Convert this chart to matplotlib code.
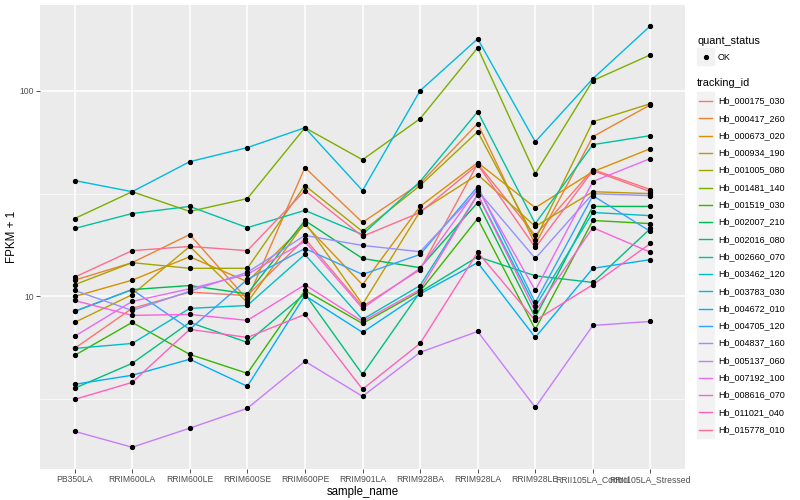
import matplotlib.pyplot as plt
from matplotlib.patches import Rectangle
from matplotlib.lines import Line2D
from matplotlib.ticker import FixedLocator, NullFormatter

plt.rcParams['font.family'] = ['Liberation Sans', 'DejaVu Sans']

samples = ['PB350LA', 'RRIM600LA', 'RRIM600LE', 'RRIM600SE', 'RRIM600PE',
           'RRIM901LA', 'RRIM928BA', 'RRIM928LA', 'RRIM928LE',
           'RRII105LA_Control', 'RRII105LA_Stressed']

tracking_ids = ['Hb_000175_030', 'Hb_000417_260', 'Hb_000673_020', 'Hb_000934_190',
                'Hb_001005_080', 'Hb_001481_140', 'Hb_001519_030', 'Hb_002007_210',
                'Hb_002016_080', 'Hb_002660_070', 'Hb_003462_120', 'Hb_003783_030',
                'Hb_004672_010', 'Hb_004705_120', 'Hb_004837_160', 'Hb_005137_060',
                'Hb_007192_100', 'Hb_008616_070', 'Hb_011021_040', 'Hb_015778_010']

# ggplot hue palette for 20 groups
colors = ['#F8766D', '#EA8331', '#D89000', '#C09B00', '#A3A500', '#7CAE00', '#39B600',
          '#00BB4E', '#00BF7D', '#00C1A3', '#00BFC4', '#00BAE0', '#00B0F6', '#35A2FF',
          '#9590FF', '#C77CFF', '#E76BF3', '#FA62DB', '#FF62BC', '#FF6C91']

# FPKM + 1 per sample
hb_000175_030 = [5.59, 8.75, 10.5, 10.1, 19.1, 8.94, 13.5, 44.2, 19.8, 41.4, 33.1]
hb_000417_260 = [12.0, 14.6, 20.0, 9.67, 42.3, 22.9, 35.4, 69.2, 17.9, 59.8, 85.5]
hb_000673_020 = [10.0, 12.0, 15.6, 11.8, 22.4, 11.4, 27.4, 44.7, 27.0, 40.4, 52.3]
hb_000934_190 = [7.48, 10.2, 17.5, 9.35, 22.9, 9.15, 25.9, 39.1, 21.9, 32.3, 31.6]
hb_001005_080 = [11.4, 14.6, 13.7, 13.7, 34.6, 20.7, 34.6, 63.2, 18.9, 70.7, 86.5]
hb_001481_140 = [23.9, 32.3, 25.9, 29.9, 66.1, 46.2, 73.1, 161.7, 39.5, 112.0, 149.5]
hb_001519_030 = [5.17, 7.48, 5.23, 4.23, 10.7, 7.39, 10.6, 23.9, 6.92, 23.4, 22.6]
hb_002007_210 = [8.46, 10.8, 11.3, 10.3, 23.4, 15.3, 13.8, 28.6, 7.91, 27.4, 27.4]
hb_002016_080 = [3.58, 4.73, 7.48, 5.98, 10.3, 4.18, 10.5, 15.6, 12.6, 11.7, 21.4]
hb_002660_070 = [21.4, 25.3, 27.4, 21.6, 26.2, 20.0, 36.2, 79.1, 22.6, 54.7, 60.5]
hb_003462_120 = [5.59, 5.91, 8.75, 9.04, 16.0, 7.73, 11.3, 31.3, 8.94, 25.6, 24.7]
hb_003783_030 = [36.6, 32.3, 45.2, 52.9, 66.1, 32.7, 100.0, 178.8, 56.5, 114.4, 206.8]
hb_004672_010 = [3.74, 4.14, 4.95, 3.66, 10.1, 6.69, 10.3, 14.6, 6.32, 13.7, 15.1]
hb_004705_120 = [8.46, 10.8, 6.92, 12.1, 17.1, 12.8, 16.0, 34.2, 9.35, 30.9, 20.7]
hb_004837_160 = [10.7, 8.55, 10.6, 13.1, 19.8, 17.7, 16.5, 32.7, 15.3, 31.6, 30.9]
hb_005137_060 = [2.21, 1.85, 2.29, 2.86, 4.84, 3.27, 5.35, 6.76, 2.89, 7.23, 7.56]
hb_007192_100 = [6.40, 9.46, 10.9, 12.8, 18.5, 8.75, 13.7, 33.4, 10.7, 36.2, 46.8]
hb_008616_070 = [9.56, 8.09, 8.18, 7.65, 11.4, 7.56, 10.8, 31.3, 8.46, 21.6, 16.4]
hb_011021_040 = [3.16, 3.82, 6.92, 6.32, 8.18, 3.54, 5.91, 16.4, 7.65, 11.4, 18.1]
hb_015778_010 = [12.4, 16.7, 17.5, 16.7, 32.7, 19.6, 25.6, 43.7, 17.3, 40.9, 32.3]

series = [hb_000175_030, hb_000417_260, hb_000673_020, hb_000934_190, hb_001005_080,
          hb_001481_140, hb_001519_030, hb_002007_210, hb_002016_080, hb_002660_070,
          hb_003462_120, hb_003783_030, hb_004672_010, hb_004705_120, hb_004837_160,
          hb_005137_060, hb_007192_100, hb_008616_070, hb_011021_040, hb_015778_010]

fig = plt.figure(figsize=(8, 5), dpi=100)
ax = fig.add_axes([40 / 800, 1 - 469 / 500, 645 / 800, 464 / 500])
ax.set_facecolor('#EBEBEB')

x = list(range(len(samples)))
for vals, c in zip(series, colors):
    ax.plot(x, vals, color=c, lw=1.0, zorder=2)
for vals in series:
    ax.plot(x, vals, 'o', color='black', ms=2.8, zorder=3)

ax.set_yscale('log')
ax.set_ylim(1.45, 261)
ax.set_xlim(-0.6, 10.6)
ax.yaxis.set_major_locator(FixedLocator([10, 100]))
ax.yaxis.set_minor_locator(FixedLocator([10 ** 0.5, 10 ** 1.5]))
ax.yaxis.set_minor_formatter(NullFormatter())
ax.set_yticklabels(['10', '100'])
ax.set_xticks(x)
# the last two labels overlap in the original too
ax.set_xticklabels(samples)

ax.grid(which='major', color='white', lw=1.1, zorder=0)
ax.grid(which='minor', axis='y', color='white', lw=0.5, zorder=0)
ax.set_axisbelow(True)
for s in ax.spines.values():
    s.set_visible(False)
ax.tick_params(which='major', length=3, width=0.6, color='#333333',
               labelsize=6.2, labelcolor='#4D4D4D', pad=1.5)
ax.tick_params(which='minor', length=0)

ax.set_xlabel('sample_name', fontsize=8.3, labelpad=1)
ax.set_ylabel('FPKM + 1', fontsize=8.3, va='center')
ax.yaxis.set_label_coords(-0.043, 0.5)

# legend drawn by hand, ggplot style
def fx(px):
    return px / 800

def fy(py):
    return 1 - py / 500

fig.text(fx(697), fy(41), 'quant_status', fontsize=7.8, va='center')
fig.patches.append(Rectangle((fx(697), fy(65)), 17 / 800, 17 / 500,
                             transform=fig.transFigure, color='#F2F2F2', zorder=1))
fig.lines.append(Line2D([fx(705.5)], [fy(56.5)], marker='o', ms=2.8, color='black',
                        transform=fig.transFigure))
fig.text(fx(718), fy(57), 'OK', fontsize=6.5, va='center')

fig.text(fx(697), fy(83), 'tracking_id', fontsize=7.8, va='center')
for i, (name, c) in enumerate(zip(tracking_ids, colors)):
    yc = 101 + i * 17.3
    fig.patches.append(Rectangle((fx(697), fy(yc + 8.5)), 17 / 800, 17 / 500,
                                 transform=fig.transFigure, color='#F2F2F2', zorder=1))
    fig.lines.append(Line2D([fx(699), fx(712)], [fy(yc), fy(yc)], color=c, lw=1.0,
                            transform=fig.transFigure))
    fig.text(fx(718), fy(yc), name, fontsize=6.5, va='center')

fig.savefig('out.png', dpi=100)
